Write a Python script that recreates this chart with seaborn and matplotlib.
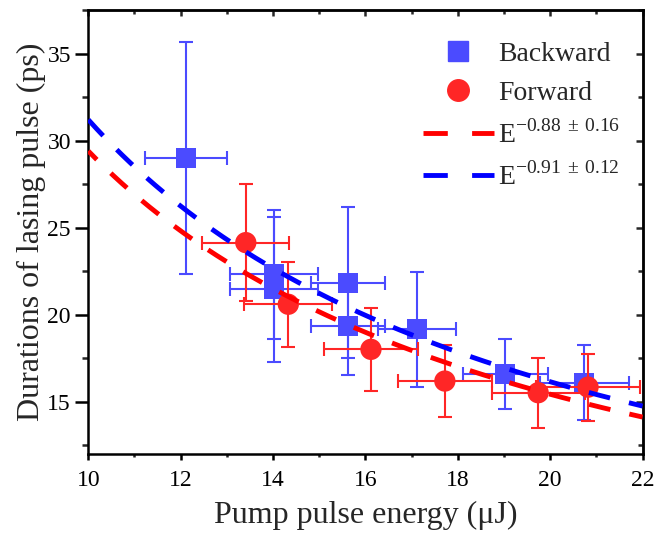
import numpy as np
import pandas as pd
import matplotlib
matplotlib.use("Agg")
import matplotlib.pyplot as plt
import seaborn as sns
from matplotlib.lines import Line2D
from matplotlib.ticker import MultipleLocator

# --- data ---
back_x = [12.11, 14.02, 14.02, 15.63, 15.63, 17.12, 19.03, 20.74]
back_y = [29.02, 22.32, 21.46, 21.84, 19.35, 19.16, 16.61, 16.09]
back_xerr = [0.89, 0.95, 0.95, 0.80, 0.80, 0.85, 0.92, 0.96]
back_yerr = [6.67, 3.70, 4.15, 4.35, 2.80, 3.30, 2.00, 2.15]

fwd_x = [13.41, 14.33, 16.12, 17.72, 19.74, 20.82]
fwd_y = [24.14, 20.60, 18.01, 16.19, 15.52, 15.84]
fwd_xerr = [0.94, 0.95, 1.01, 1.01, 1.01, 1.12]
fwd_yerr = [3.35, 2.43, 2.37, 2.08, 2.00, 1.93]

# power-law fit curves as drawn: y = scale * (E/10)^exp
fit_scale = {"fwd": 29.4, "back": 31.2}
fit_exp = {"fwd": -0.93, "back": -0.95}
fit_labels = {"fwd": r"E$^{\mathregular{-0.88\,\pm\,0.16}}$",
              "back": r"E$^{\mathregular{-0.91\,\pm\,0.12}}$"}

back_df = pd.DataFrame({"E": back_x, "tau": back_y})
fwd_df = pd.DataFrame({"E": fwd_x, "tau": fwd_y})

e_grid = np.linspace(10, 22, 200)
fit_df = pd.DataFrame({
    "E": np.concatenate([e_grid, e_grid]),
    "tau": np.concatenate([fit_scale["fwd"] * (e_grid / 10) ** fit_exp["fwd"],
                           fit_scale["back"] * (e_grid / 10) ** fit_exp["back"]]),
    "fit": ["fwd"] * len(e_grid) + ["back"] * len(e_grid),
})

# --- style ---
sns.set_theme(style="ticks")
plt.rcParams["font.family"] = ["Liberation Serif", "DejaVu Serif"]
plt.rcParams["mathtext.fontset"] = "custom"
plt.rcParams["mathtext.rm"] = "Liberation Serif"
plt.rcParams["axes.linewidth"] = 1.8

blue_pt = "#4B4BFF"
red_pt = "#FF2626"
blue_ln = "#0000FF"
red_ln = "#FF0000"

fig = plt.figure(figsize=(6.57, 5.34), dpi=100)
ax = fig.add_axes([0.1344, 0.1498, 0.8436, 0.8315])

# error bars + markers
ax.errorbar(back_x, back_y, xerr=back_xerr, yerr=back_yerr, fmt="none",
            ecolor=blue_pt, elinewidth=1.5, capsize=5, capthick=1.5, zorder=2)
sns.scatterplot(data=back_df, x="E", y="tau", marker="s", s=210, color=blue_pt,
                edgecolor="none", ax=ax, zorder=3, legend=False)

ax.errorbar(fwd_x, fwd_y, xerr=fwd_xerr, yerr=fwd_yerr, fmt="none",
            ecolor=red_pt, elinewidth=1.5, capsize=5, capthick=1.5, zorder=4)
sns.scatterplot(data=fwd_df, x="E", y="tau", marker="o", s=235, color=red_pt,
                edgecolor="none", ax=ax, zorder=5, legend=False)

# fitted lines
sns.lineplot(data=fit_df[fit_df["fit"] == "back"], x="E", y="tau", color=blue_ln,
             lw=3.5, linestyle=(0, (4.5, 4)), ax=ax, zorder=6, legend=False)
sns.lineplot(data=fit_df[fit_df["fit"] == "fwd"], x="E", y="tau", color=red_ln,
             lw=3.5, linestyle=(2, (4.5, 4)), ax=ax, zorder=7, legend=False)

ax.set_xlim(10, 22)
ax.set_ylim(12, 37.5)
ax.xaxis.set_major_locator(MultipleLocator(2))
ax.xaxis.set_minor_locator(MultipleLocator(1))
ax.yaxis.set_major_locator(MultipleLocator(5))
ax.yaxis.set_minor_locator(MultipleLocator(2.5))
ax.set_yticks([15, 20, 25, 30, 35])

ax.tick_params(axis="x", which="major", direction="out", length=4.5, width=1.8,
               labelsize=17, pad=7, colors="black")
ax.tick_params(axis="x", which="minor", direction="out", length=2.5, width=1.8)
ax.tick_params(axis="y", which="major", direction="out", length=9.5, width=1.8,
               labelsize=17, pad=3, colors="black")
ax.tick_params(axis="y", which="minor", direction="out", length=4, width=1.8)

secx = ax.secondary_xaxis("top")
secx.xaxis.set_major_locator(MultipleLocator(2))
secx.xaxis.set_minor_locator(MultipleLocator(1))
secx.tick_params(which="major", direction="in", length=4, width=1.8, labeltop=False)
secx.tick_params(which="minor", direction="in", length=3, width=1.8)
secy = ax.secondary_yaxis("right")
secy.yaxis.set_major_locator(MultipleLocator(5))
secy.yaxis.set_minor_locator(MultipleLocator(2.5))
secy.tick_params(which="major", direction="in", length=5, width=1.8, labelright=False)
secy.tick_params(which="minor", direction="in", length=3.5, width=1.8)

for side in ["top", "right", "left", "bottom"]:
    ax.spines[side].set_visible(True)
    ax.spines[side].set_color("black")

ax.set_xlabel("Pump pulse energy (\u03bcJ)", fontsize=23, labelpad=7)
ax.set_ylabel("Durations of lasing pulse (ps)", fontsize=23, labelpad=1)

handles = [
    Line2D([], [], marker="s", color=blue_pt, ls="none", markersize=14.5),
    Line2D([], [], marker="o", color=red_pt, ls="none", markersize=15.5),
    Line2D([], [], color=red_ln, lw=3.5, ls=(0, (5, 5))),
    Line2D([], [], color=blue_ln, lw=3.5, ls=(0, (5, 5))),
]
labels = ["Backward", "Forward", fit_labels["fwd"], fit_labels["back"]]
ax.legend(handles, labels, loc="upper left", frameon=False, fontsize=20,
          handlelength=2.55, handletextpad=0.15, labelspacing=0.5,
          borderpad=0, borderaxespad=0, bbox_to_anchor=(0.604, 0.93))

fig.savefig("out.png", dpi=100)
